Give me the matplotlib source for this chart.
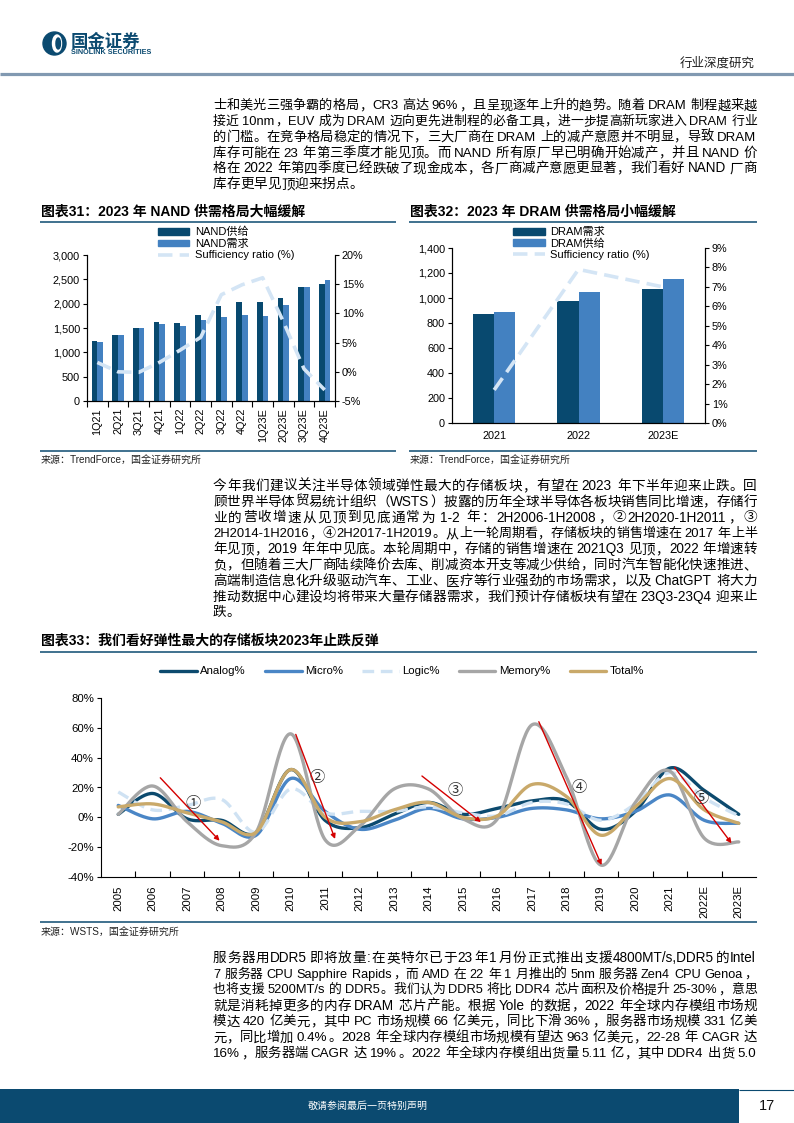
import re
import numpy as np
import matplotlib
matplotlib.use('Agg')
import matplotlib.pyplot as plt
from matplotlib import font_manager as fm
from matplotlib.font_manager import FontProperties
from matplotlib.patches import Rectangle, Circle, Ellipse, Patch
from matplotlib.lines import Line2D
from matplotlib.ticker import FuncFormatter, MultipleLocator

# ---------------- data ----------------
nand_q = ['1Q21', '2Q21', '3Q21', '4Q21', '1Q22', '2Q22', '3Q22', '4Q22',
          '1Q23E', '2Q23E', '3Q23E', '4Q23E']
nand_supply = [1240, 1350, 1490, 1630, 1610, 1770, 1960, 2040, 2040, 2120, 2350, 2410]
nand_demand = [1220, 1350, 1490, 1590, 1550, 1670, 1730, 1770, 1750, 1980, 2350, 2490]
nand_ratio = [1.6, 0.0, -0.1, 1.6, 3.7, 5.9, 13.2, 14.9, 16.1, 8.6, 0.5, -3.1]

dram_years = ['2021', '2022', '2023E']
dram_demand = [870, 975, 1070]
dram_supply = [885, 1050, 1150]
dram_ratio = [1.7, 7.9, 7.0]

wsts_years = ['2005', '2006', '2007', '2008', '2009', '2010', '2011', '2012', '2013',
              '2014', '2015', '2016', '2017', '2018', '2019', '2020', '2021',
              '2022E', '2023E']
analog = [2, 16, -1, -2, -10, 32, -2, -7, 2, 10, 2, 6, 11, 11, -8, 4, 33, 18, 2]
micro = [8, -1, 4, -4, -12, 26, 4, -8, -2, 6, -1, 0, 6, 5, -1, 4, 15, -2, -4]
logic = [17, 5, 8, 12, -10, 19, 3, 4, 4, 7, 3, 1, 10, 9, -2, 9, 30, 13, 1]
memory = [2, 21, -3, -19, -10, 56, -15, -6, 19, 19, -1, -1, 62, 27, -32, 10, 31, -14, -16.5]
total = [7, 9, 3, -3, -10, 32, 0, -3, 5, 10, 0, 1, 22, 14, -12, 7, 26, 5, -4]

# cycle annotations: (start index, start value, end index, end value), label position
cycle_arrows = [(1.22, 26.5, 2.94, -15.7), (5.15, 55.6, 6.29, -14.5),
                (8.81, 27.7, 10.52, -3.2), (12.2, 64.1, 14.02, -32.0),
                (16.14, 33.5, 17.79, -17.4)]
cycle_marks = [('①', 2.18, 9.4), ('②', 5.78, 26.8), ('③', 9.76, 18.3),
               ('④', 13.37, 20.1), ('⑤', 16.9, 12.7)]

para1 = [
    "士和美光三强争霸的格局，CR3 高达 96%，且呈现逐年上升的趋势。随着 DRAM 制程越来越",
    "接近 10nm，EUV 成为 DRAM 迈向更先进制程的必备工具，进一步提高新玩家进入 DRAM 行业",
    "的门槛。在竞争格局稳定的情况下，三大厂商在 DRAM 上的减产意愿并不明显，导致 DRAM",
    "库存可能在 23 年第三季度才能见顶。而 NAND 所有原厂早已明确开始减产，并且 NAND 价",
    "格在 2022 年第四季度已经跌破了现金成本，各厂商减产意愿更显著，我们看好 NAND 厂商",
    "库存更早见顶迎来拐点。",
]
para2 = [
    "今年我们建议关注半导体领域弹性最大的存储板块，有望在 2023 年下半年迎来止跌。回",
    "顾世界半导体贸易统计组织（WSTS）披露的历年全球半导体各板块销售同比增速，存储行",
    "业的营收增速从见顶到见底通常为 1-2 年：2H2006-1H2008，②2H2020-1H2011，③",
    "2H2014-1H2016，④2H2017-1H2019。从上一轮周期看，存储板块的销售增速在 2017 年上半",
    "年见顶，2019 年年中见底。本轮周期中，存储的销售增速在 2021Q3 见顶，2022 年增速转",
    "负，但随着三大厂商陆续降价去库、削减资本开支等减少供给，同时汽车智能化快速推进、",
    "高端制造信息化升级驱动汽车、工业、医疗等行业强劲的市场需求，以及 ChatGPT 将大力",
    "推动数据中心建设均将带来大量存储器需求，我们预计存储板块有望在 23Q3-23Q4 迎来止",
    "跌。",
]
para3 = [
    "服务器用DDR5即将放量:在英特尔已于23年1月份正式推出支援4800MT/s,DDR5的Intel",
    "7 服务器 CPU Sapphire Rapids，而 AMD 在 22 年 1 月推出的 5nm 服务器 Zen4 CPU Genoa，",
    "也将支援 5200MT/s 的 DDR5。我们认为 DDR5 将比 DDR4 芯片面积及价格提升 25-30%，意思",
    "就是消耗掉更多的内存 DRAM 芯片产能。根据 Yole 的数据，2022 年全球内存模组市场规",
    "模达 420 亿美元，其中 PC 市场规模 66 亿美元，同比下滑 36%，服务器市场规模 331 亿美",
    "元，同比增加 0.4%。2028 年全球内存模组市场规模有望达 963 亿美元，22-28 年 CAGR 达",
    "16%，服务器端 CAGR 达 19%。2022 年全球内存模组出货量 5.11 亿，其中 DDR4 出货 5.0",
]

# ---------------- style ----------------
names = {f.name for f in fm.fontManager.ttflist}
CJK = 'Noto Sans CJK SC'
NARROW = 'Liberation Sans Narrow' if 'Liberation Sans Narrow' in names else 'Liberation Sans'
SANS_F = ['Liberation Sans', CJK]
NARROW_F = [NARROW, CJK]
BODY_F = [NARROW, CJK]
plt.rcParams['font.family'] = SANS_F
plt.rcParams['axes.unicode_minus'] = False
plt.rcParams['axes.linewidth'] = 0.8

NAVY = '#0b4a70'
C_DARK = '#08496f'
C_MID = '#4381c1'
C_LIGHT = '#d4e5f5'
C_ANALOG = '#0c4a6e'
C_MICRO = '#4a86c6'
C_LOGIC = '#cfe2f3'
C_MEM = '#a6a6a6'
C_TOTAL = '#c9a96a'

W, H = 794, 1123
fig = plt.figure(figsize=(W / 100, H / 100), dpi=100)
fig.patch.set_facecolor('white')


def fx(x):
    return x / W


def fy(y):
    return 1 - y / H


def ax_at(x0, y0, x1, y1):
    return fig.add_axes([fx(x0), fy(y1), (x1 - x0) / W, (y1 - y0) / H])


def hline(x0, x1, y, color, lw):
    fig.add_artist(Line2D([fx(x0), fx(x1)], [fy(y), fy(y)], transform=fig.transFigure,
                          color=color, lw=lw, solid_capstyle='butt'))


def px_patch(p):
    p.set_transform(fig.dpi_scale_trans)
    fig.add_artist(p)


# ---------------- header ----------------
px_patch(Circle((54.5 / 100, (H - 43.5) / 100), 11.5 / 100, color=NAVY))
px_patch(Ellipse((57.0 / 100, (H - 43.5) / 100), 9 / 100, 17 / 100, color='white'))
px_patch(Ellipse((58.2 / 100, (H - 43.5) / 100), 4.5 / 100, 11 / 100, color=NAVY))
fig.text(fx(71), fy(42), '国金证券', fontsize=12.5, fontweight='bold', color=NAVY,
         family=[CJK], va='center', ha='left')
fig.text(fx(71), fy(53), 'SINOLINK SECURITIES', fontsize=5.2, fontweight='bold',
         color=NAVY, va='center', ha='left')
fig.text(fx(755), fy(63), '行业深度研究', fontsize=9, color='#222222', family=[CJK],
         va='center', ha='right')
hline(0, W, 73.5, '#8199b1', 2.3)

# ---------------- footer ----------------
px_patch(Rectangle((0, 0), 739 / 100, (H - 1089) / 100, color=NAVY, lw=0))
hline(739, W, 1089.5, NAVY, 0.8)
fig.text(fx(368), fy(1106), '敬请参阅最后一页特别声明', fontsize=7.2, color='white',
         family=[CJK], va='center', ha='center')
fig.text(fx(767), fy(1106), '17', fontsize=10.5, color='#111111', va='center', ha='center')

# ---------------- body text ----------------
X0, X1 = 213, 757
BODY_PT = 9.8


def draw_para(lines, y0, dy):
    r = fig.canvas.get_renderer()
    for i, line in enumerate(lines):
        last = (i == len(lines) - 1) and len(line) < 30
        size = BODY_PT
        while True:
            fp = FontProperties(family=BODY_F, size=size)
            em = size * 100 / 72
            toks = re.findall(r'[\x21-\x7e]+| +|[^\x21-\x7e ]', line)
            ws = []
            for t in toks:
                if t[0] == ' ':
                    ws.append(0.22 * em * len(t))
                elif ord(t[0]) < 128:
                    ws.append(r.get_text_width_height_descent(t, fp, ismath=False)[0] + 0.08 * em)
                else:
                    ws.append(em)
            nat = sum(ws)
            if last or nat <= (X1 - X0) or size < 7:
                break
            size *= (X1 - X0) / nat * 0.995
        yb = y0 + i * dy + 0.36 * em
        gap = 0 if last else (X1 - X0 - nat) / (len(toks) - 1)
        x = X0
        for t, w in zip(toks, ws):
            if t[0] != ' ':
                fig.text(fx(x), fy(yb), t, fontproperties=fp, va='baseline', ha='left',
                         color='#000000')
            x += w + gap


draw_para(para1, 104.5, 15.75)
draw_para(para2, 485, 15.8)
draw_para(para3, 957, 15.9)

# ---------------- chart titles / frames ----------------
TITLE_KW = dict(fontsize=10, fontweight='bold', color='#000000', va='center', ha='left',
                family=['Liberation Sans', CJK])
fig.text(fx(41), fy(212), '图表31：2023 年 NAND 供需格局大幅缓解', **TITLE_KW)
fig.text(fx(410), fy(212), '图表32：2023 年 DRAM 供需格局小幅缓解', **TITLE_KW)
fig.text(fx(41), fy(641), '图表33：我们看好弹性最大的存储板块2023年止跌反弹', **TITLE_KW)
hline(40, 396, 222, NAVY, 1.1)
hline(409, 757, 222, NAVY, 1.1)
hline(40, 396, 451, NAVY, 1.1)
hline(409, 757, 451, NAVY, 1.1)
hline(40, 757, 651.5, NAVY, 1.1)
hline(40, 757, 922, NAVY, 1.1)
SRC_KW = dict(fontsize=7.2, color='#222222', va='center', ha='left')
fig.text(fx(41), fy(461), '来源：TrendForce，国金证券研究所', **SRC_KW)
fig.text(fx(410), fy(461), '来源：TrendForce，国金证券研究所', **SRC_KW)
fig.text(fx(41), fy(933), '来源：WSTS，国金证券研究所', **SRC_KW)

TICK_PT = 7.8


def style_bar_axes(ax, ax2):
    for a in (ax, ax2):
        a.spines['top'].set_visible(False)
        a.patch.set_alpha(0)
    ax.tick_params(axis='y', direction='out', length=3, width=0.8, labelsize=TICK_PT, pad=2)
    ax2.tick_params(axis='y', direction='out', length=3, width=0.8, labelsize=TICK_PT, pad=2)


# ---------------- chart 31 ----------------
ax = ax_at(87, 255, 335, 401)
x = np.arange(len(nand_q))
bw = 0.28
ax.bar(x - bw / 2, nand_supply, bw, color=C_DARK, lw=0, zorder=2)
ax.bar(x + bw / 2, nand_demand, bw, color=C_MID, lw=0, zorder=2)
ax.set_xlim(-0.5, len(x) - 0.5)
ax.set_ylim(0, 3000)
ax.yaxis.set_major_locator(MultipleLocator(500))
ax.yaxis.set_major_formatter(FuncFormatter(lambda v, p: f'{v:,.0f}'))
ax.set_xticks(x)
ax.set_xticklabels(nand_q, rotation=90, fontsize=TICK_PT)
ax.set_xticks(np.arange(-0.5, len(x)), minor=True)
ax.tick_params(axis='x', which='major', length=0, pad=5)
ax.tick_params(axis='x', which='minor', length=4, width=0.8, direction='out')
ax2 = ax.twinx()
ax2.plot(x, nand_ratio, color=C_LIGHT, lw=2.6, dashes=(4, 2), zorder=3)
ax2.set_ylim(-5, 20)
ax2.yaxis.set_major_locator(MultipleLocator(5))
ax2.yaxis.set_major_formatter(FuncFormatter(lambda v, p: f'{v:.0f}%'))
style_bar_axes(ax, ax2)
fig.legend([Patch(color=C_DARK), Patch(color=C_MID),
            Line2D([], [], color=C_LIGHT, lw=2.6, dashes=(4, 2))],
           ['NAND供给', 'NAND需求', 'Sufficiency ratio (%)'],
           loc='upper left', bbox_to_anchor=(fx(158), fy(227)), frameon=False,
           fontsize=8, handlelength=2.8, handleheight=0.55, handletextpad=0.5,
           labelspacing=0.12, borderpad=0, borderaxespad=0)

# ---------------- chart 32 ----------------
ax = ax_at(452, 248, 705, 423)
x = np.arange(len(dram_years))
bw = 0.25
ax.bar(x - bw / 2, dram_demand, bw, color=C_DARK, lw=0, zorder=2)
ax.bar(x + bw / 2, dram_supply, bw, color=C_MID, lw=0, zorder=2)
ax.set_xlim(-0.5, len(x) - 0.5)
ax.set_ylim(0, 1400)
ax.yaxis.set_major_locator(MultipleLocator(200))
ax.yaxis.set_major_formatter(FuncFormatter(lambda v, p: f'{v:,.0f}'))
ax.set_xticks(x)
ax.set_xticklabels(dram_years, fontsize=TICK_PT)
ax.tick_params(axis='x', length=0, pad=6)
ax2 = ax.twinx()
ax2.plot(x, dram_ratio, color=C_LIGHT, lw=2.6, dashes=(4, 2), zorder=3)
ax2.set_ylim(0, 9)
ax2.yaxis.set_major_locator(MultipleLocator(1))
ax2.yaxis.set_major_formatter(FuncFormatter(lambda v, p: f'{v:.0f}%'))
style_bar_axes(ax, ax2)
fig.legend([Patch(color=C_DARK), Patch(color=C_MID),
            Line2D([], [], color=C_LIGHT, lw=2.6, dashes=(4, 2))],
           ['DRAM需求', 'DRAM供给', 'Sufficiency ratio (%)'],
           loc='upper left', bbox_to_anchor=(fx(513), fy(227)), frameon=False,
           fontsize=8, handlelength=2.9, handleheight=0.6, handletextpad=0.45,
           labelspacing=0.12, borderpad=0, borderaxespad=0)


# ---------------- chart 33 ----------------
def excel_smooth(vals, n=30):
    v = np.asarray(vals, float)
    P = np.column_stack([np.arange(len(v), dtype=float), v])
    out = []
    t = np.linspace(0, 1, n)[:, None]
    for i in range(len(P) - 1):
        p0 = P[i - 1] if i > 0 else P[i]
        p1, p2 = P[i], P[i + 1]
        p3 = P[i + 2] if i + 2 < len(P) else P[i + 1]
        c1 = p1 + (p2 - p0) / 6
        c2 = p2 - (p3 - p1) / 6
        seg = (1 - t) ** 3 * p1 + 3 * (1 - t) ** 2 * t * c1 + 3 * (1 - t) * t ** 2 * c2 + t ** 3 * p2
        out.append(seg if i == 0 else seg[1:])
    return np.vstack(out)


ax = ax_at(101, 698, 756, 877)
series = [('Analog%', analog, C_ANALOG, None), ('Micro%', micro, C_MICRO, None),
          ('Logic%', logic, C_LOGIC, (3.5, 2)), ('Memory%', memory, C_MEM, None),
          ('Total%', total, C_TOTAL, None)]
handles = []
for name, vals, col, dash in series:
    pts = excel_smooth(vals)
    kw = dict(color=col, lw=2.4, solid_capstyle='round')
    if dash:
        kw['dashes'] = dash
    ax.plot(pts[:, 0], pts[:, 1], **kw)
    handles.append(Line2D([], [], **kw))
for (x0, y0, x1, y1) in cycle_arrows:
    ax.annotate('', xy=(x1, y1), xytext=(x0, y0),
                arrowprops=dict(arrowstyle='-|>', color='#d40000', lw=1.0,
                                mutation_scale=7, shrinkA=0, shrinkB=0))
for lab, xm, ym in cycle_marks:
    ax.text(xm, ym, lab, fontsize=11, family=[CJK], color='#333333', ha='center',
            va='center')
ax.set_xlim(-0.5, len(wsts_years) - 0.5)
ax.set_ylim(-40, 80)
ax.yaxis.set_major_locator(MultipleLocator(20))
ax.yaxis.set_major_formatter(FuncFormatter(lambda v, p: f'{v:.0f}%'))
ax.set_xticks(np.arange(len(wsts_years)))
ax.set_xticklabels(wsts_years, rotation=90, family=NARROW_F, fontsize=8.2)
ax.set_xticks(np.arange(0.5, len(wsts_years) - 1), minor=True)
ax.tick_params(axis='x', which='major', length=0, pad=6)
ax.tick_params(axis='x', which='minor', length=4, width=0.8, direction='in')
ax.tick_params(axis='y', direction='out', length=3, width=0.8, pad=2)
for lab in ax.get_yticklabels():
    lab.set_family(NARROW_F)
    lab.set_fontsize(8.2)
ax.spines['top'].set_visible(False)
ax.spines['right'].set_visible(False)
fig.legend(handles, [s[0] for s in series], loc='center',
           bbox_to_anchor=(fx(402), fy(671.5)), ncol=5, frameon=False,
           prop=FontProperties(family=NARROW_F, size=8.2), handlelength=3.2,
           handletextpad=0.3, columnspacing=1.7, borderpad=0)

fig.savefig('out.png', dpi=100)
